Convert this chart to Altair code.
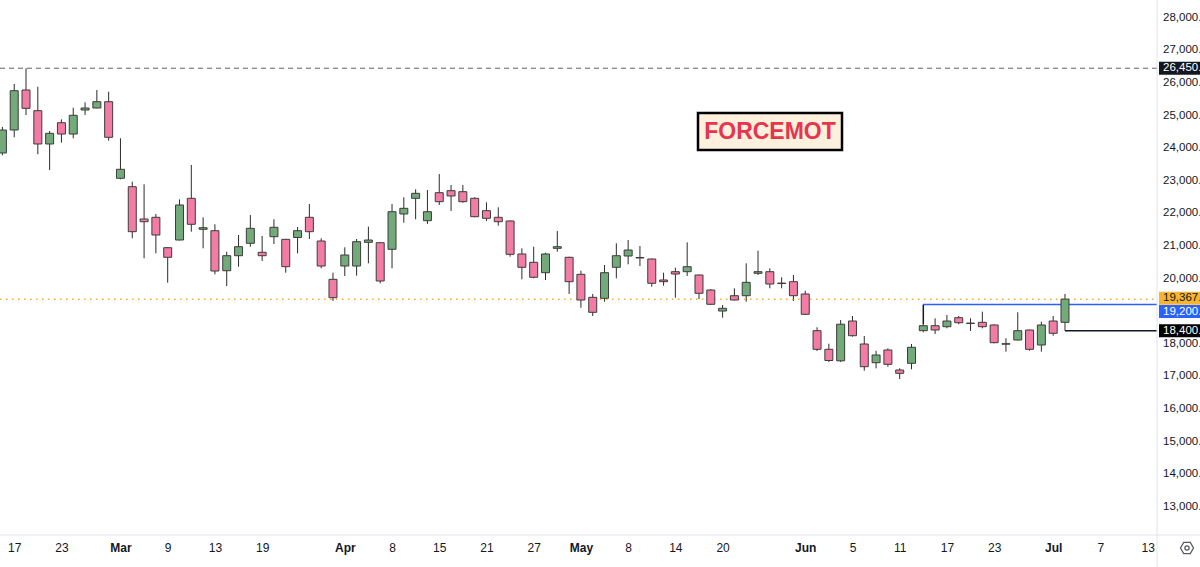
import altair as alt
import pandas as pd

# ---------------- data ----------------
bar_index = list(range(1, 92))
open_ = [23850, 24555, 25782, 25147, 24126, 24779, 24432, 25169, 25230, 25423,
         23074, 22816, 21825, 21877, 20945, 21181, 22460, 21509, 21466, 20239,
         20699, 21080, 20804, 21282, 21202, 21258, 21877, 21150, 19975, 20383,
         20383, 21110, 21098, 20896, 21979, 22460, 21773, 22632, 22693, 22663,
         22460, 22080, 21877, 21764, 20752, 20497, 20178, 20926, 20650, 20129,
         19423, 19393, 20344, 20690, 20645, 20598, 19954, 20209, 20209, 20107,
         19647, 19003, 19472, 19472, 20160, 20209, 19860, 19902, 19525, 18399,
         17828, 17475, 18696, 17991, 17417, 17807, 17193, 17399, 18399, 18552,
         18521, 18798, 18632, 18656, 18574, 18000, 18113, 18420, 17960, 18696,
         18656]
high = [24650, 25966, 26450, 25883, 24525, 24883, 25239, 25405, 25782, 25730,
        24301, 22969, 22890, 21979, 20960, 22429, 23482, 21877, 21663, 20822,
        21334, 21948, 21304, 21816, 21215, 21580, 22285, 21233, 20178, 20957,
        21212, 21589, 21110, 22285, 22491, 22736, 22715, 23205, 22868, 22868,
        22491, 22337, 22184, 21780, 20926, 20975, 20791, 21457, 20669, 20239,
        19525, 20414, 21080, 21181, 20997, 20610, 20178, 20331, 21110, 20120,
        19678, 19187, 19699, 20466, 20853, 20313, 20037, 20107, 19626, 18503,
        18000, 18727, 18850, 18236, 17785, 17859, 17245, 17991, 18595, 18779,
        18880, 18850, 18779, 18982, 18590, 18166, 18963, 18430, 18675, 18850,
        19525]
low = [23780, 24331, 25015, 23810, 23328, 24166, 24301, 25015, 25220, 24227,
       23043, 21233, 20620, 20773, 19871, 21170, 21436, 20926, 20129, 19770,
       20362, 20975, 20537, 21058, 20178, 20773, 21212, 20313, 19310, 20077,
       20086, 20466, 19853, 20313, 21712, 21816, 21672, 22255, 22071, 22325,
       21880, 21764, 21620, 20669, 19975, 20006, 19954, 20822, 19525, 19104,
       18850, 19288, 20006, 20436, 20383, 19748, 19779, 19411, 20077, 19371,
       19187, 18798, 19330, 19288, 20107, 19699, 19699, 19310, 18880, 17776,
       17439, 17439, 18215, 17172, 17245, 17294, 16917, 17215, 18350, 18298,
       18472, 18595, 18390, 18472, 18012, 17755, 18100, 17785, 17755, 18245,
       18400]
close = [24555, 25761, 25221, 24126, 24454, 24432, 25006, 25230, 25423, 24331,
         23350, 21436, 21742, 21334, 20650, 22255, 21663, 21558, 20230, 20699,
         20975, 21540, 20699, 21571, 20362, 21466, 21436, 20383, 19411, 20721,
         21129, 21181, 19923, 22049, 22153, 22613, 22049, 22356, 22531, 22356,
         21896, 21847, 21742, 20742, 20344, 20037, 20752, 20975, 19902, 19340,
         18963, 20178, 20699, 20874, 20630, 19853, 19902, 20138, 20362, 19546,
         19209, 19086, 19340, 19883, 20209, 19831, 19845, 19472, 18902, 17828,
         17485, 18598, 18245, 17294, 17653, 17368, 17092, 17890, 18552, 18420,
         18696, 18644, 18620, 18521, 18031, 17985, 18399, 17828, 18574, 18319,
         19367]

tick_idx = [2, 6, 11, 15, 19, 23, 30, 34, 38, 42, 46, 50, 54, 58, 62, 69, 73, 77, 81, 85, 90, 94, 98]
tick_txt = ["17", "23", "Mar", "9", "13", "19", "Apr", "8", "15", "21", "27", "May",
            "8", "14", "20", "Jun", "5", "11", "17", "23", "Jul", "7", "13"]
month_idx = [11, 30, 50, 69, 90]
y_ticks = [13000, 14000, 15000, 16000, 17000, 18000, 20000, 21000, 22000,
           23000, 24000, 25000, 26000, 27000, 28000]

ath_level = 26450
last_price = 19367
blue_level = 19200
blue_start_bar = 79
blue_anchor_high = 18595
black_level = 18400
black_start_bar = 91

# price tags on the right scale: (price, text, background, text colour, pixel shift)
tags = [
    (26450, "26,450.00", "#131722", "#ffffff", 0),
    (19367, "19,367.00", "#f6b52f", "#131722", -1),
    (19200, "19,200.00", "#2962ff", "#ffffff", 7),
    (18400, "18,400.00", "#000000", "#ffffff", 0),
]

# ---------------- chart ----------------
W, H = 1157, 535
FONT = "Liberation Sans"
FS = 11.5
GREEN = "#72aa79"
PINK = "#f27ca5"

df = pd.DataFrame({"i": bar_index, "o": open_, "h": high, "l": low, "c": close})
df["dir"] = ["up" if c >= o else "down" for o, c in zip(df.o, df.c)]
one = pd.DataFrame({"k": [0]})
ydf = pd.DataFrame({"v": y_ticks})

xs = alt.Scale(domain=[1.22, 98.37], nice=False, zero=False)
ys = alt.Scale(domain=[12132, 28543], nice=False, zero=False)

label_expr = "[" + ",".join("'%s'" % t for t in tick_txt) + "][indexof([" + \
    ",".join(str(v) for v in tick_idx) + "], datum.value)]"

x_axis = alt.Axis(values=tick_idx, labelExpr=label_expr, title=None, grid=False,
                  ticks=False, domain=False, labelFont=FONT, labelFontSize=12,
                  labelColor="#131722", labelPadding=7, labelFlush=False,
                  labelOverlap=False,
                  labelFontWeight={"condition": {"test": "indexof([%s], datum.value) >= 0" % ",".join(str(m) for m in month_idx),
                                                 "value": "bold"}, "value": "normal"})

layers = []

# horizontal reference lines
layers.append(alt.Chart(one).mark_rule(color="#5d606b", strokeDash=[5, 4], strokeWidth=1).encode(
    x=alt.value(0), x2=alt.value(W), y=alt.datum(ath_level)))
layers.append(alt.Chart(one).mark_rule(color="#f2b12c", strokeDash=[1.5, 4.5], strokeWidth=1.5).encode(
    x=alt.value(0), x2=alt.value(W), y=alt.datum(last_price)))
layers.append(alt.Chart(one).mark_rule(color="#2962ff", strokeWidth=1.5).encode(
    x=alt.datum(blue_start_bar), x2=alt.value(W), y=alt.datum(blue_level)))
layers.append(alt.Chart(one).mark_rule(color="#131722", strokeWidth=1.5).encode(
    x=alt.datum(blue_start_bar), y=alt.datum(blue_level), y2=alt.datum(blue_anchor_high)))
layers.append(alt.Chart(one).mark_rule(color="#131722", strokeWidth=1.5).encode(
    x=alt.datum(black_start_bar), x2=alt.value(W), y=alt.datum(black_level)))

# candles
wicks = alt.Chart(df).mark_rule(color="#2b2b2b", strokeWidth=1, clip=True).encode(
    x=alt.X("i:Q", scale=xs, axis=x_axis),
    y=alt.Y("l:Q", scale=ys, axis=None),
    y2="h:Q")
bodies = alt.Chart(df).mark_bar(size=8, stroke="#3c3c3c", strokeWidth=1, clip=True).encode(
    x="i:Q", y="o:Q", y2="c:Q",
    fill=alt.Fill("dir:N", scale=alt.Scale(domain=["up", "down"], range=[GREEN, PINK]), legend=None))
layers = [wicks] + layers + [bodies]

# price scale labels (right side)
layers.append(alt.Chart(ydf).mark_text(font=FONT, fontSize=FS, color="#131722", align="left",
                                       baseline="middle").encode(
    x=alt.value(W + 6), y="v:Q", text=alt.Text("v:Q", format=",.2f")))

# frame lines
layers.append(alt.Chart(one).mark_rule(color="#e0e3eb", strokeWidth=1).encode(
    x=alt.value(W), y=alt.value(0), y2=alt.value(567)))
layers.append(alt.Chart(one).mark_rule(color="#e0e3eb", strokeWidth=1).encode(
    x=alt.value(0), x2=alt.value(1200), y=alt.value(H)))

# price tags
for price, txt, bg, fg, shift in tags:
    layers.append(alt.Chart(one).mark_rule(color=bg, strokeWidth=13, strokeCap="butt", yOffset=shift).encode(
        x=alt.value(W + 2), x2=alt.value(1200), y=alt.datum(price)))
    layers.append(alt.Chart(one).mark_text(color=fg, font=FONT, fontSize=FS, align="left",
                                           baseline="middle", yOffset=shift).encode(
        x=alt.value(W + 6), y=alt.datum(price), text=alt.value(txt)))

# symbol label box
layers.append(alt.Chart(one).mark_rect(fill="#fdf0dc", stroke="#000000", strokeWidth=2.5).encode(
    x=alt.value(698), x2=alt.value(842), y=alt.value(113), y2=alt.value(150)))
layers.append(alt.Chart(one).mark_text(font=FONT, fontWeight="bold", fontSize=23, color="#e6354d",
                                       align="center", baseline="middle").encode(
    x=alt.value(770), y=alt.value(132), text=alt.value("FORCEMOT")))

# settings icon
layers.append(alt.Chart(one).mark_point(
    shape="M-1,0L-0.5,-0.866L0.5,-0.866L1,0L0.5,0.866L-0.5,0.866Z",
    size=170, filled=False, color="#131722", strokeWidth=1.3).encode(
    x=alt.value(1187), y=alt.value(548)))
layers.append(alt.Chart(one).mark_point(shape="circle", size=18, filled=False,
                                        color="#131722", strokeWidth=1.3).encode(
    x=alt.value(1187), y=alt.value(548)))

chart = alt.layer(*layers).properties(
    width=W, height=H,
    padding={"left": 0, "top": 0, "right": 43, "bottom": 32},
    autosize="none",
    background="#ffffff",
).configure_view(stroke=None)

chart.save("out.html", embed_options={"renderer": "svg", "actions": False})
